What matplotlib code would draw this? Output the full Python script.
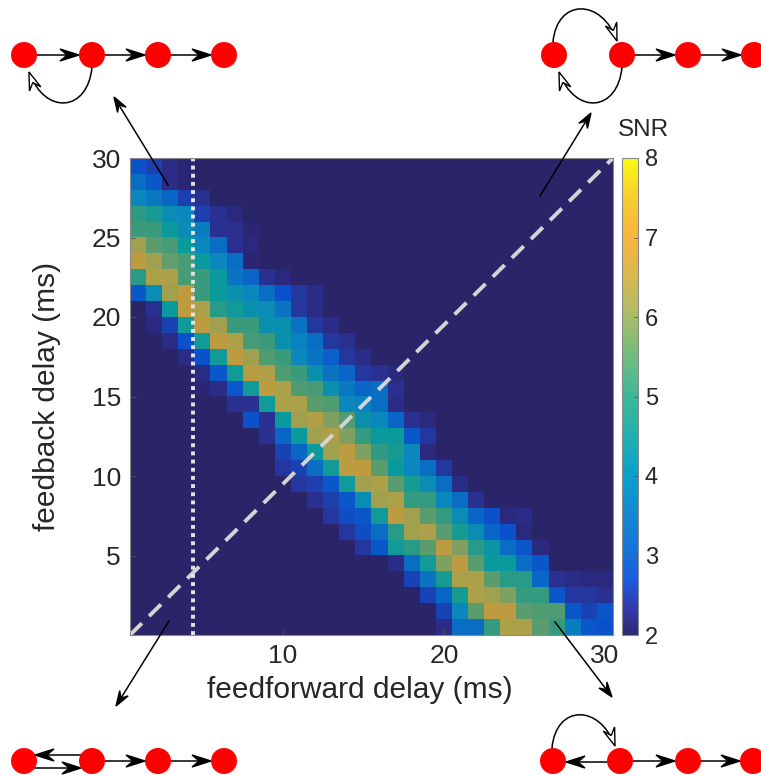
import numpy as np
import matplotlib
matplotlib.use("Agg")
import matplotlib.pyplot as plt
from matplotlib.colors import LinearSegmentedColormap, Normalize
from matplotlib.cm import ScalarMappable
from matplotlib.patches import Circle, Polygon, PathPatch
from matplotlib.path import Path

plt.rcParams['font.family'] = ['Liberation Sans', 'DejaVu Sans']

# ---------------------------------------------------------------------------
# data: SNR per cell, rows from feedback delay 30 (top) down to 1 (bottom)
# every cell outside the listed band is at the floor value
# ---------------------------------------------------------------------------
n_delays = 30
snr_floor = 2.0
band_start = [0, 0, 0, 0, 0, 0, 0, 0, 0, 1,
              1, 2, 3, 4, 4, 6, 7, 8, 9, 9,
              10, 11, 12, 13, 14, 16, 17, 18, 19, 19]
band_snr = [
    [3.0, 2.6, 2.3, 2.1],
    [3.4, 3.1, 2.3, 2.1],
    [3.9, 3.6, 3.3, 2.6, 2.4],
    [4.8, 4.5, 4.0, 3.9, 2.6, 2.4, 2.2],
    [5.0, 5.0, 4.3, 4.0, 3.7, 2.4, 2.4, 2.1],
    [6.2, 5.4, 5.2, 4.3, 3.9, 3.4, 2.4, 2.2],
    [6.9, 6.2, 5.5, 5.2, 4.3, 3.9, 3.4, 2.1],
    [4.7, 6.5, 6.5, 5.2, 5.0, 4.3, 3.5, 3.3, 2.4, 2.2],
    [3.1, 4.0, 6.2, 6.9, 5.0, 4.3, 4.1, 3.9, 3.4, 3.0, 2.5, 2.3],
    [2.4, 4.3, 6.9, 6.5, 4.7, 4.4, 4.1, 4.0, 3.5, 2.5, 2.3],
    [2.2, 2.7, 4.4, 6.9, 6.2, 5.0, 5.0, 4.1, 4.1, 3.5, 2.5, 2.3],
    [2.3, 3.0, 4.4, 6.9, 6.5, 5.2, 5.0, 4.1, 3.8, 3.4, 2.5, 2.4],
    [2.3, 3.0, 4.4, 6.9, 6.2, 5.3, 5.0, 3.9, 3.5, 3.2, 2.5, 2.3],
    [2.3, 3.1, 4.4, 6.8, 6.6, 5.3, 5.0, 4.1, 3.5, 3.3, 2.5, 2.4, 2.2],
    [2.1, 2.3, 3.1, 4.4, 6.9, 6.5, 5.3, 5.2, 4.1, 3.6, 3.3, 3.4, 2.4],
    [2.4, 2.4, 4.4, 6.5, 6.5, 5.4, 5.3, 3.9, 3.8, 3.4, 2.3],
    [3.0, 2.4, 4.3, 6.2, 6.6, 5.8, 5.3, 4.1, 3.9, 3.3, 2.4, 2.2],
    [2.4, 3.3, 4.3, 6.2, 6.6, 5.8, 4.9, 4.3, 4.3, 3.1, 2.5],
    [2.7, 3.3, 4.3, 6.2, 6.9, 5.8, 4.8, 4.5, 3.9, 2.2],
    [2.5, 2.7, 3.4, 4.4, 6.9, 7.0, 5.4, 4.3, 3.9, 3.4, 2.5],
    [2.5, 2.6, 3.1, 4.4, 6.2, 6.5, 5.4, 4.5, 4.0, 3.4, 2.3],
    [2.4, 2.6, 3.1, 4.0, 6.2, 6.5, 4.9, 4.9, 3.9, 3.4, 2.4],
    [2.5, 2.9, 3.1, 4.4, 6.9, 6.2, 5.4, 4.9, 4.0, 3.3, 3.0, 2.2, 2.3],
    [2.5, 2.9, 3.4, 4.7, 6.2, 6.5, 5.4, 4.5, 4.0, 3.3, 3.0, 2.2],
    [2.5, 3.1, 4.4, 4.7, 5.4, 6.9, 5.8, 4.7, 4.2, 3.4, 3.1, 2.2],
    [2.3, 3.4, 4.4, 5.8, 6.9, 5.4, 4.3, 4.3, 3.4, 3.1],
    [2.7, 3.5, 4.5, 6.5, 6.5, 5.4, 4.7, 4.7, 3.3, 2.4, 2.3, 2.2, 2.2],
    [2.7, 3.3, 4.5, 6.5, 6.2, 5.8, 4.9, 4.9, 3.1, 2.5, 2.5, 2.4],
    [2.7, 3.9, 5.4, 6.9, 6.9, 5.4, 5.3, 5.3, 3.1, 2.7, 3.1],
    [2.3, 3.4, 3.4, 4.9, 6.5, 6.5, 5.4, 4.9, 3.7, 3.1, 3.0],
]
x_ticks = [10, 20, 30]
y_ticks = [5, 10, 15, 20, 25, 30]
cbar_ticks = [2, 3, 4, 5, 6, 7, 8]
snr_min, snr_max = 2, 8
marked_ff_delay = 4.4

snr = np.full((n_delays, n_delays), snr_floor)
for r, (c0, vals) in enumerate(zip(band_start, band_snr)):
    snr[r, c0:c0 + len(vals)] = vals

# muted parula as seen in the cells, bright parula for the colour bar
def make_cmap(name, anchors):
    return LinearSegmentedColormap.from_list(
        name, [((v - snr_min) / (snr_max - snr_min), c) for v, c in anchors])

cell_cmap = make_cmap('cells', [
    (2.0, '#2a2468'), (2.2, '#2a2a80'), (2.4, '#2a3090'), (2.6, '#1e40b0'),
    (3.0, '#0a52cc'), (3.4, '#0a6ec4'), (3.9, '#0a88be'), (4.3, '#0a9a9c'),
    (4.8, '#2e9a84'), (5.3, '#509c72'), (5.8, '#7ea062'), (6.2, '#a0a050'),
    (6.6, '#b0a048'), (7.0, '#c09a40'), (8.0, '#e8d020')])
bar_cmap = make_cmap('bar', [
    (2.0, '#2d2a72'), (2.3, '#3538a8'), (2.7, '#1a5ee0'), (3.0, '#1470dc'),
    (3.5, '#1488d2'), (4.0, '#08a0cc'), (4.5, '#20b0b0'), (5.0, '#3cb898'),
    (5.5, '#70bc80'), (6.0, '#a8bc68'), (6.5, '#d8b850'), (7.0, '#f8b440'),
    (7.5, '#f8cc30'), (8.0, '#f8fa10')])
norm = Normalize(snr_min, snr_max)

W, H = 761, 775
fig = plt.figure(figsize=(W / 100, H / 100), dpi=100)

# ---------------------------------------------------------------------------
# heat map
# ---------------------------------------------------------------------------
ax = fig.add_axes([130 / W, 1 - 635 / H, 483 / W, 477 / H])
ax.imshow(snr, cmap=cell_cmap, norm=norm, origin='upper',
          extent=(0.5, 30.5, 0, 30), aspect='auto', interpolation='nearest')
ax.set_xlim(0.5, 30.5)
ax.set_ylim(0, 30)
ax.plot(ax.get_xlim(), ax.get_ylim(), color='#d4d4d4', lw=2.8,
        dashes=(4.3, 2.6), solid_capstyle='butt')
ax.axvline(marked_ff_delay, color='#e4e4e4', lw=2.8, dashes=(1, 1.1))
ax.set_xticks(x_ticks)
ax.set_yticks(y_ticks)
ax.tick_params(direction='in', length=4, width=0.6, color='#555555',
               labelsize=19, labelcolor='#262626', pad=6.5)
for s in ax.spines.values():
    s.set_color('#8a8a8a')
    s.set_linewidth(0.8)
ax.set_xlabel('feedforward delay (ms)', fontsize=21.5, color='#262626', va='center')
ax.set_ylabel('feedback delay (ms)', fontsize=21.5, color='#262626', va='center')
ax.xaxis.set_label_coords((360 - 130) / 483, (635 - 690) / 477)
ax.yaxis.set_label_coords((47 - 130) / 483, 0.5)

cax = fig.add_axes([622 / W, 1 - 635 / H, 16 / W, 477 / H])
cb = fig.colorbar(ScalarMappable(norm=norm, cmap=bar_cmap), cax=cax,
                  ticks=cbar_ticks)
cb.outline.set_edgecolor('#8a8a8a')
cb.outline.set_linewidth(0.8)
cax.tick_params(direction='in', length=3, width=0.6, color='#555555',
                labelsize=17, labelcolor='#262626', pad=5)
fig.text(643 / W, 1 - 130 / H, 'SNR', fontsize=17.5, color='#262626',
         ha='center', va='center')

# ---------------------------------------------------------------------------
# network sketches, drawn in pixel coordinates on top of everything
# ---------------------------------------------------------------------------
ov = fig.add_axes([0, 0, 1, 1], zorder=10)
ov.set_xlim(0, W)
ov.set_ylim(H, 0)
ov.axis('off')
ov.patch.set_alpha(0)

R = 13


def head(tip, d, length=19, width=12, filled=True):
    d = np.asarray(d, float)
    d = d / np.hypot(*d)
    n = np.array([-d[1], d[0]])
    tip = np.asarray(tip, float)
    base = tip - d * length
    notch = tip - d * length * 0.62
    pts = [tip, base + n * width / 2, notch, base - n * width / 2]
    ov.add_patch(Polygon(pts, closed=True, fc='black' if filled else 'white',
                         ec='black', lw=1.0, zorder=12, joinstyle='miter'))
    return notch


def straight(p0, p1, **kw):
    p0 = np.asarray(p0, float)
    p1 = np.asarray(p1, float)
    notch = head(p1, p1 - p0, **kw)
    ov.plot([p0[0], notch[0]], [p0[1], notch[1]], color='black', lw=1.1, zorder=11)


def curved(p0, c1, c2, p3):
    path = Path([p0, c1, c2, p3], [Path.MOVETO, Path.CURVE4, Path.CURVE4, Path.CURVE4])
    ov.add_patch(PathPatch(path, fc='none', ec='black', lw=1.1, zorder=11))
    head(p3, np.subtract(p3, c2), length=18, width=12, filled=False)


def nodes(xs, y):
    for x in xs:
        ov.add_patch(Circle((x, y), R, fc='#ff0000', ec='none', zorder=13))


def chain(xs, y, start):
    for a, b in zip(xs[start:-1], xs[start + 1:]):
        straight((a + R, y), (b - R, y))


# top left: feedback loop 2 -> 1
tl = [24, 92, 158, 224]
nodes(tl, 55)
chain(tl, 55, 0)
curved((92, 67), (88, 112), (45, 116), (29, 72))

# top right: loops both ways between 1 and 2
tr = [554, 622, 688, 754]
nodes(tr, 55)
chain(tr, 55, 1)
curved((553, 42), (557, -2), (602, -2), (617, 41))
curved((622, 67), (618, 112), (575, 116), (559, 72))

# bottom left: reciprocal straight links between 1 and 2
bl = [24, 92, 158, 224]
nodes(bl, 761)
straight((bl[1] - R + 2, 755), (bl[0] + R - 2, 755))
straight((bl[0] + R - 2, 768), (bl[1] - R + 2, 768))
chain(bl, 761, 1)

# bottom right: back link 2 -> 1 plus loop 1 -> 2
br = [553, 620, 688, 753]
nodes(br, 761)
straight((br[1] - R, 762), (br[0] + R, 762))
chain(br, 761, 1)
curved((552, 748), (556, 704), (600, 704), (615, 746))

# pointers from the heat map corners to the sketches
for p0, p1 in [((168, 185), (114, 97)), ((540, 196), (591, 113)),
               ((169, 621), (116, 706)), ((555, 622), (612, 697))]:
    straight(p0, p1, length=15, width=10)

fig.savefig('out.png', dpi=100)
